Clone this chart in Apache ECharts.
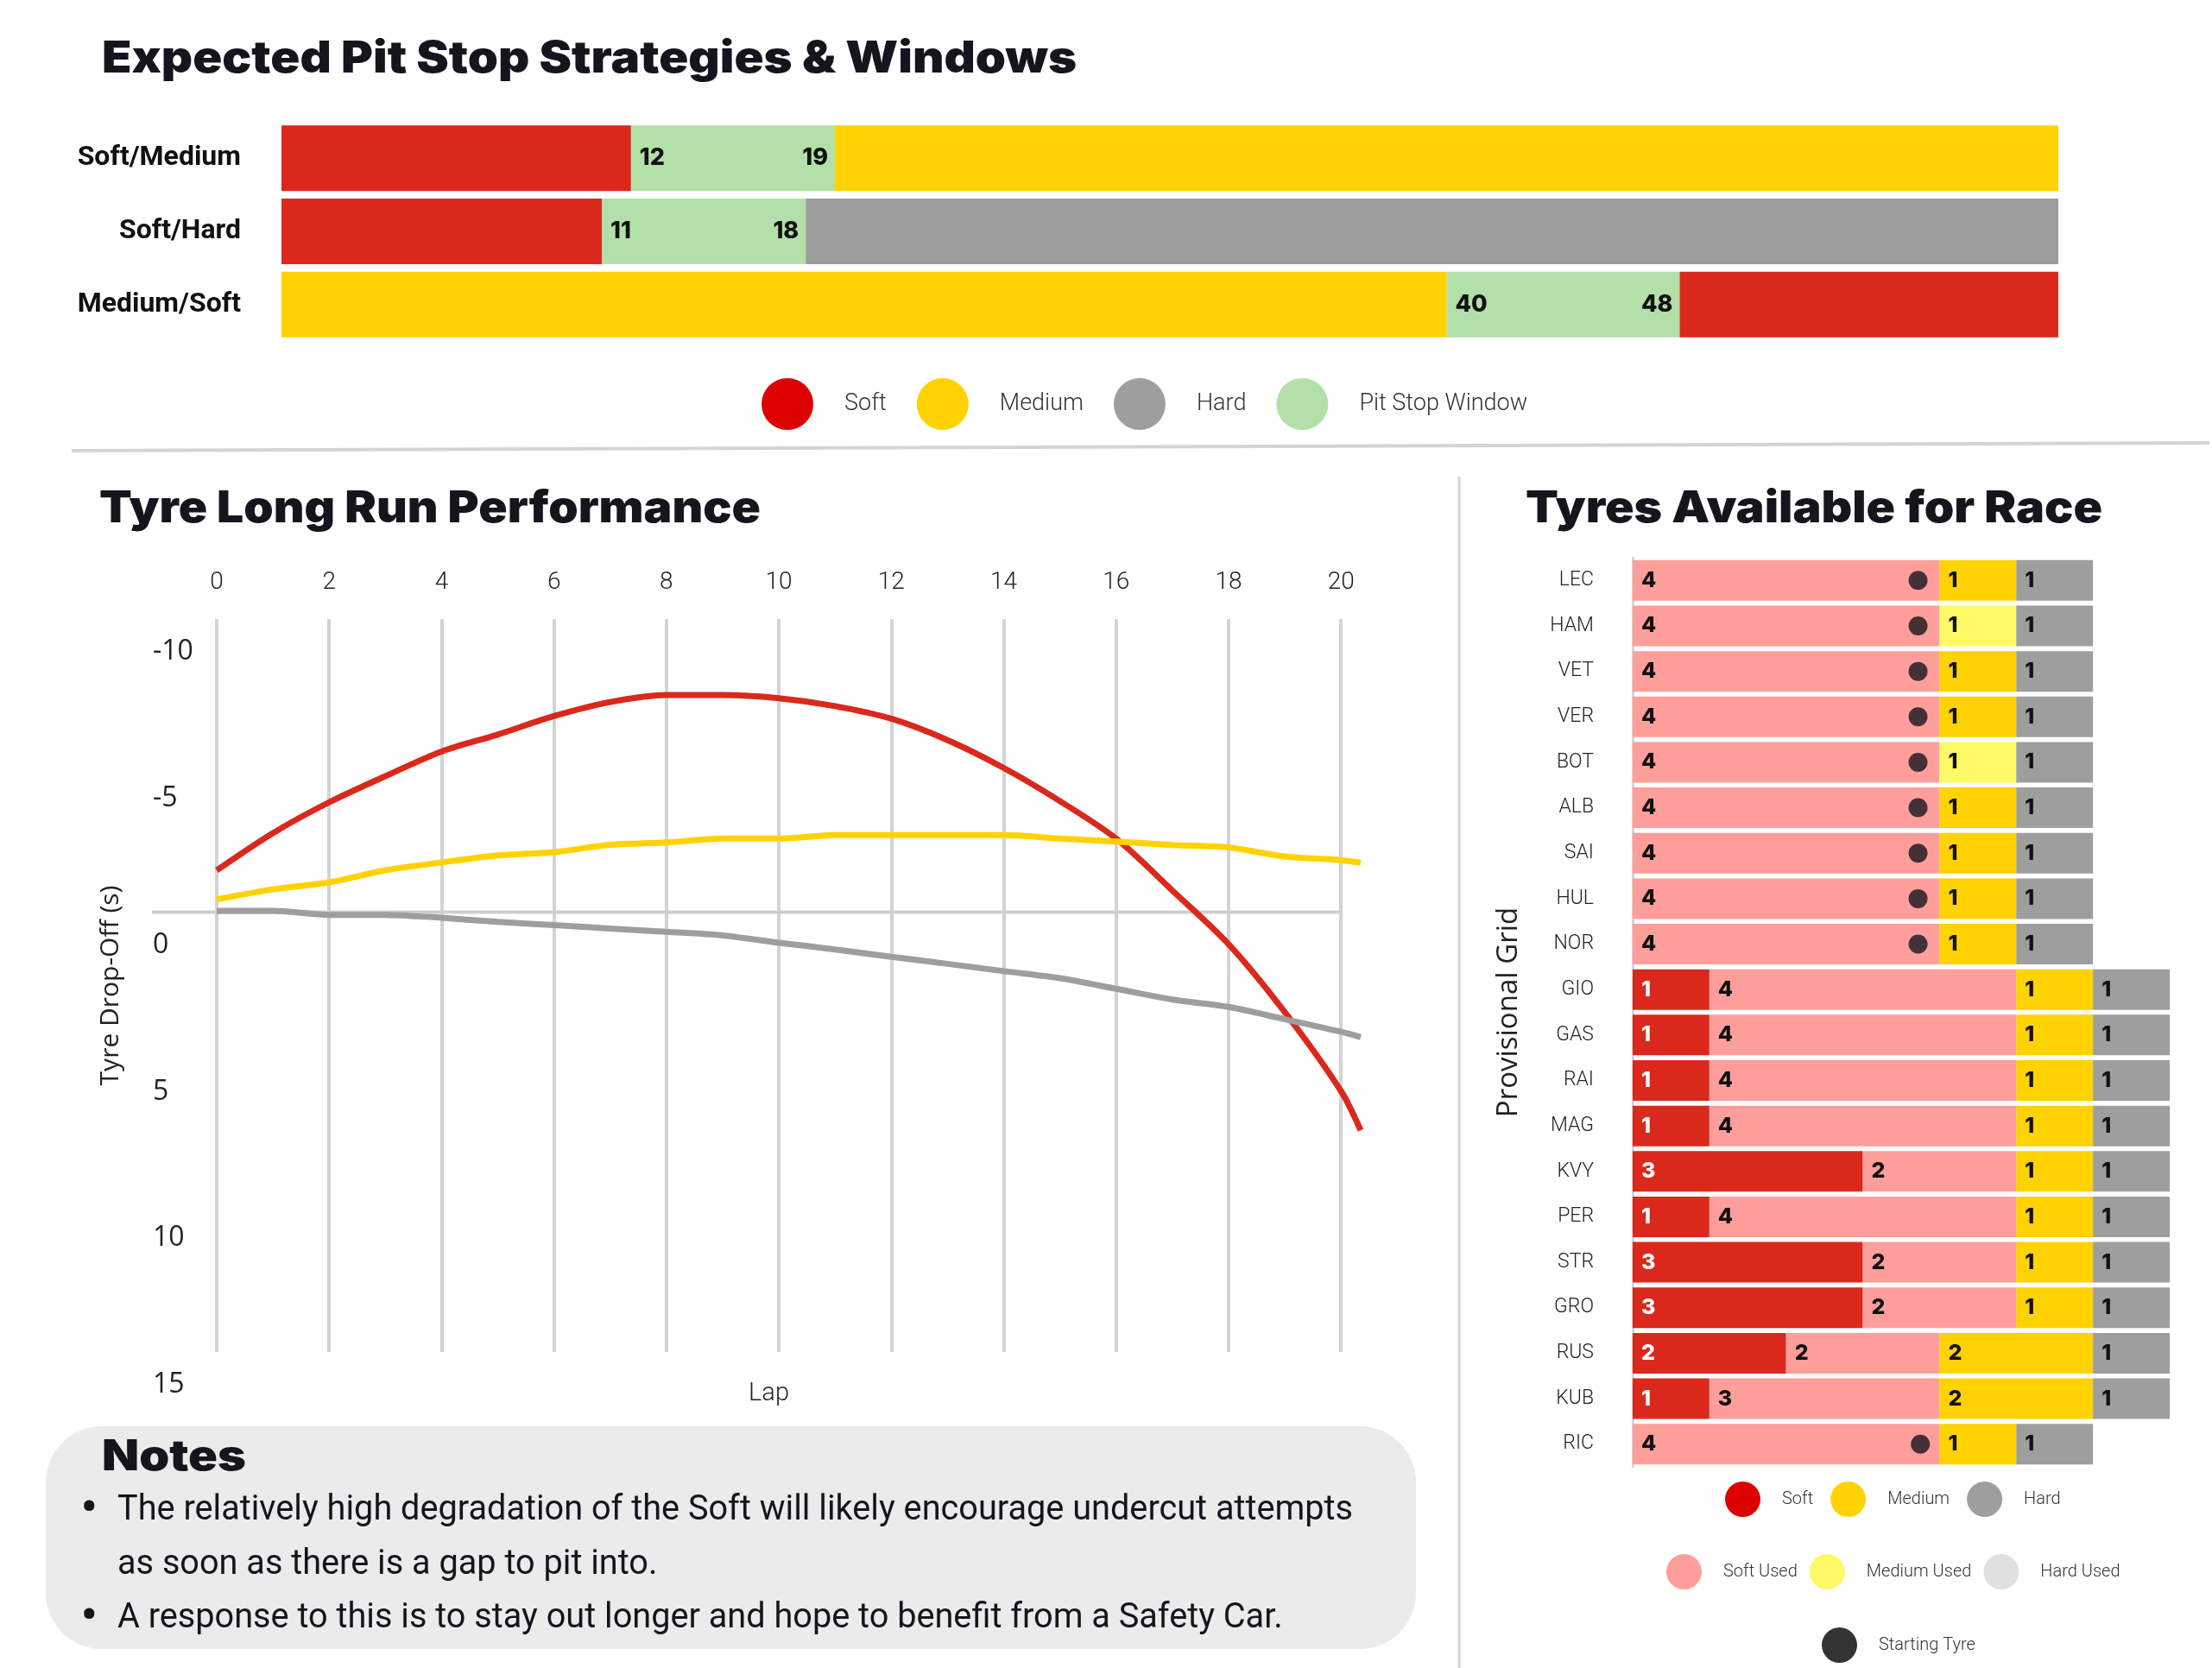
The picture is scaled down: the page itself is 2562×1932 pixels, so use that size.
<!DOCTYPE html>
<html>
<head>
<meta charset="utf-8">
<title>Pit Stop Strategies &amp; Tyres</title>
<script src="https://cdn.jsdelivr.net/npm/echarts@6/dist/echarts.min.js"></script>
<style>
  html, body { margin: 0; padding: 0; background: #fff; }
  #chart { width: 2562px; height: 1932px; }
</style>
</head>
<body>
<div id="chart"></div>
<script>
// strategies, 61 lap race
const raceLaps = 61;
const strategyNames = ['Soft/Medium', 'Soft/Hard', 'Medium/Soft'];
const firstStint = ['Soft', 'Soft', 'Medium'];
const secondStint = ['Medium', 'Hard', 'Soft'];
const windowOpen = [12, 11, 40];
const windowClose = [19, 18, 48];

// long run drop-off (s), negative = faster
const laps = [0, 1, 2, 3, 4, 5, 6, 7, 8, 9, 10, 11, 12, 13, 14, 15, 16, 17, 18, 19, 20, 20.35];
const softDrop = [-1.43, -2.70, -3.75, -4.64, -5.48, -6.06, -6.69, -7.17, -7.41, -7.41, -7.30, -7.03,
  -6.60, -5.87, -4.92, -3.79, -2.51, -0.74, 1.09, 3.41, 6.10, 7.44];
const mediumDrop = [-0.44, -0.78, -1.02, -1.43, -1.70, -1.94, -2.05, -2.30, -2.38, -2.51, -2.51, -2.63,
  -2.63, -2.63, -2.63, -2.51, -2.41, -2.29, -2.21, -1.90, -1.78, -1.69];
const hardDrop = [-0.05, -0.05, 0.09, 0.09, 0.19, 0.33, 0.44, 0.56, 0.67, 0.79, 1.04, 1.27,
  1.52, 1.76, 2.01, 2.25, 2.61, 2.98, 3.23, 3.65, 4.08, 4.26];

// tyre sets available for the race
const drivers = ['LEC', 'HAM', 'VET', 'VER', 'BOT', 'ALB', 'SAI', 'HUL', 'NOR', 'GIO',
  'GAS', 'RAI', 'MAG', 'KVY', 'PER', 'STR', 'GRO', 'RUS', 'KUB', 'RIC'];
const softNew    = [0, 0, 0, 0, 0, 0, 0, 0, 0, 1, 1, 1, 1, 3, 1, 3, 3, 2, 1, 0];
const softUsed   = [4, 4, 4, 4, 4, 4, 4, 4, 4, 4, 4, 4, 4, 2, 4, 2, 2, 2, 3, 4];
const mediumNew  = [1, 0, 1, 1, 0, 1, 1, 1, 1, 1, 1, 1, 1, 1, 1, 1, 1, 2, 2, 1];
const mediumUsed = [0, 1, 0, 0, 1, 0, 0, 0, 0, 0, 0, 0, 0, 0, 0, 0, 0, 0, 0, 0];
const hardNew    = [1, 1, 1, 1, 1, 1, 1, 1, 1, 1, 1, 1, 1, 1, 1, 1, 1, 1, 1, 1];
const hardUsed   = [0, 0, 0, 0, 0, 0, 0, 0, 0, 0, 0, 0, 0, 0, 0, 0, 0, 0, 0, 0];
const startingTyre = [3.72, 3.72, 3.72, 3.72, 3.72, 3.72, 3.72, 3.72, 3.72, null,
  null, null, null, null, null, null, null, null, null, 3.75];

const notes = [
  ['The relatively high degradation of the Soft will likely encourage undercut attempts',
   'as soon as there is a gap to pit into.'],
  ['A response to this is to stay out longer and hope to benefit from a Safety Car.'],
];

const F1 = "Inter, 'Noto Sans', sans-serif";
const LIGHT = "Roboto, 'Noto Sans', sans-serif";
const SANS = "'Open Sans', 'Noto Sans', sans-serif";
const INK = '#15151e';

const compoundColor = { Soft: '#da291c', Medium: '#ffd200', Hard: '#9c9c9c' };
const legendColor = { Soft: '#dd0000', Medium: '#ffd200', Hard: '#9e9e9e' };

// text squeezed/stretched to the width it has in the layout
const measure = document.createElement('canvas').getContext('2d');
function fitScale(text, font, width) {
  measure.font = font;
  return width / measure.measureText(text).width;
}
function headline(text, x, y, width, size) {
  const font = `900 ${size}px Inter`;
  return {
    type: 'text', x, y, scaleX: fitScale(text, font, width),
    style: { text, font, fill: INK, verticalAlign: 'middle' },
  };
}

// --- strategy bars ---
const stratLabel = { color: '#111', fontFamily: F1, fontWeight: 800, fontSize: 27 };
const strategySeries = [];
['Soft', 'Medium'].forEach((c) => {
  strategySeries.push({
    name: c, type: 'bar', stack: 'strategy', xAxisIndex: 0, yAxisIndex: 0,
    barWidth: 76, itemStyle: { color: compoundColor[c] },
    data: firstStint.map((f, i) => (f === c ? windowOpen[i] : '-')),
  });
});
strategySeries.push({
  name: 'Pit Stop Window', type: 'bar', stack: 'strategy', xAxisIndex: 0, yAxisIndex: 0,
  barWidth: 76, itemStyle: { color: '#b3dfa8' },
  data: windowClose.map((v, i) => v - windowOpen[i]),
  label: { show: true, position: 'insideLeft', distance: 10, formatter: (p) => windowOpen[p.dataIndex], ...stratLabel },
});
['Medium', 'Hard', 'Soft'].forEach((c) => {
  strategySeries.push({
    name: c, type: 'bar', stack: 'strategy', xAxisIndex: 0, yAxisIndex: 0,
    barWidth: 76, itemStyle: { color: compoundColor[c] },
    data: secondStint.map((s, i) => (s === c ? raceLaps - windowClose[i] : '-')),
    label: { show: true, position: 'left', distance: 8, formatter: (p) => windowClose[p.dataIndex], ...stratLabel },
  });
});

// --- long run lines ---
function dropLine(name, values, color) {
  return {
    name, type: 'line', xAxisIndex: 1, yAxisIndex: 1, smooth: 0.3, symbol: 'none',
    lineStyle: { color, width: 7 }, z: 4,
    data: laps.map((l, i) => [l, values[i]]),
  };
}
const lineSeries = [
  dropLine('Soft long run', softDrop, '#da291c'),
  dropLine('Medium long run', mediumDrop, '#ffd200'),
  dropLine('Hard long run', hardDrop, '#9e9e9e'),
  {
    name: 'zero', type: 'line', xAxisIndex: 4, yAxisIndex: 3, symbol: 'none', silent: true, z: 2,
    lineStyle: { color: '#cfcfcf', width: 4 }, data: [[0, 0], [1, 0]],
  },
];

// --- tyres available ---
const tyreTypes = [
  ['Soft', softNew, '#da291c', '#fff'],
  ['Soft Used', softUsed, '#ff9e9a', '#111'],
  ['Medium', mediumNew, '#ffd200', '#111'],
  ['Medium Used', mediumUsed, '#fff966', '#111'],
  ['Hard', hardNew, '#9e9e9e', '#111'],
  ['Hard Used', hardUsed, '#e0e0e0', '#111'],
];
const tyreSeries = tyreTypes.map(([name, values, color, labelColor]) => ({
  name, type: 'bar', stack: 'tyres', xAxisIndex: 3, yAxisIndex: 2, barWidth: 47,
  itemStyle: { color },
  label: {
    show: true, position: 'insideLeft', distance: 10, color: labelColor,
    fontFamily: F1, fontWeight: 800, fontSize: 25,
  },
  data: values.map((v) => (v > 0 ? v : '-')),
}));
tyreSeries.push({
  name: 'Starting Tyre', type: 'scatter', xAxisIndex: 3, yAxisIndex: 2, symbol: 'circle',
  symbolSize: 22, itemStyle: { color: '#15151e' }, z: 5,
  data: drivers.map((d, i) => (startingTyre[i] == null ? null : [startingTyre[i], d])).filter(Boolean),
});

// --- notes ---
const noteFont = '400 40px Roboto';
const noteScale = fitScale(notes[0][0], noteFont, 1431);
const noteGraphics = [];
let lineY = 1750;
notes.forEach((para) => {
  noteGraphics.push({
    type: 'text', x: 103, y: lineY,
    style: { text: '•', font: '700 52px Roboto', fill: INK, align: 'center', verticalAlign: 'middle' },
  });
  para.forEach((t) => {
    noteGraphics.push({
      type: 'text', x: 136, y: lineY, scaleX: noteScale,
      style: { text: t, font: noteFont, fill: INK, verticalAlign: 'middle' },
    });
    lineY += 62.5;
  });
});

const legendText = (size) => ({ color: '#333', fontFamily: LIGHT, fontWeight: 300, fontSize: size });

const chart = echarts.init(document.getElementById('chart'));
chart.setOption({
  backgroundColor: '#fff',
  animation: false,
  legend: [
    {
      left: 877, top: 433, itemWidth: 122, itemHeight: 60, itemGap: 35, icon: 'circle',
      textStyle: legendText(27),
      data: ['Soft', 'Medium', 'Hard'].map((n) => ({ name: n, itemStyle: { color: legendColor[n] } }))
        .concat([{ name: 'Pit Stop Window', itemStyle: { color: '#b3dfa8' } }]),
    },
    {
      left: 1993, top: 1711, itemWidth: 81, itemHeight: 41, itemGap: 20, icon: 'circle',
      textStyle: legendText(20),
      data: ['Soft', 'Medium', 'Hard'].map((n) => ({ name: n, itemStyle: { color: legendColor[n] } })),
    },
    {
      left: 1925, top: 1795, itemWidth: 81, itemHeight: 41, itemGap: 14, icon: 'circle',
      textStyle: legendText(20),
      data: [
        { name: 'Soft Used', itemStyle: { color: '#ff9e9a' } },
        { name: 'Medium Used', itemStyle: { color: '#fff966' } },
        { name: 'Hard Used', itemStyle: { color: '#e0e0e0' } },
      ],
    },
    {
      left: 2105, top: 1880, itemWidth: 81, itemHeight: 41, icon: 'circle',
      textStyle: legendText(20),
      data: [{ name: 'Starting Tyre', itemStyle: { color: '#000' } }],
    },
  ],
  grid: [
    { left: 326, right: 178, top: 141, height: 254 },
    { left: 251, right: 986, top: 717, bottom: 366 },
    { left: 1891, right: 49, top: 646, bottom: 233 },
    { left: 176, right: 1009, top: 717, bottom: 366 },
  ],
  xAxis: [
    { gridIndex: 0, type: 'value', min: 0, max: raceLaps, show: false },
    {
      gridIndex: 1, type: 'value', position: 'top', min: 0, max: 20.35, interval: 2,
      axisLine: { show: false }, axisTick: { show: false },
      axisLabel: { margin: 28, showMaxLabel: false, color: '#222', fontFamily: LIGHT, fontWeight: 300, fontSize: 28 },
      splitLine: { show: true, showMaxLine: false, lineStyle: { color: '#d3d3d3', width: 4 } },
    },
    {
      gridIndex: 1, type: 'value', position: 'bottom', min: 0, max: 20.35,
      axisLine: { show: false }, axisTick: { show: false }, axisLabel: { show: false },
      splitLine: { show: false },
      name: 'Lap', nameLocation: 'middle', nameGap: 34,
      nameTextStyle: { color: '#222', fontFamily: LIGHT, fontWeight: 300, fontSize: 29, padding: [0, 46, 0, 0] },
    },
    { gridIndex: 2, type: 'value', min: 0, max: 7, show: false },
    { gridIndex: 3, type: 'value', min: 0, max: 1, show: false },
  ],
  yAxis: [
    {
      gridIndex: 0, type: 'category', inverse: true, data: strategyNames,
      axisLine: { show: false }, axisTick: { show: false },
      axisLabel: { margin: 47, color: '#111', fontFamily: LIGHT, fontWeight: 700, fontSize: 32, padding: [6, 0, 0, 0] },
    },
    {
      gridIndex: 1, type: 'value', inverse: true, min: -10, max: 15, interval: 5,
      axisLine: { show: false }, axisTick: { show: false }, splitLine: { show: false },
      axisLabel: {
        align: 'left', margin: 74, verticalAlign: 'top', lineHeight: 32, padding: [22, 0, 0, 0],
        color: '#222', fontFamily: SANS, fontSize: 32,
      },
      name: 'Tyre Drop-Off (s)', nameLocation: 'middle', nameRotate: 90, nameGap: 108,
      nameTextStyle: { color: '#222', fontFamily: SANS, fontSize: 30 },
    },
    {
      gridIndex: 2, type: 'category', inverse: true, data: drivers,
      axisLine: { show: true, lineStyle: { color: '#d6d6d6', width: 3 } }, axisTick: { show: false },
      axisLabel: { margin: 45, color: '#222', fontFamily: LIGHT, fontWeight: 300, fontSize: 23, padding: [12, 0, 0, 0] },
      name: 'Provisional Grid', nameLocation: 'middle', nameRotate: 90, nameGap: 127,
      nameTextStyle: { color: '#222', fontFamily: SANS, fontSize: 33 },
    },
    { gridIndex: 3, type: 'value', inverse: true, min: -10, max: 15, show: false },
  ],
  graphic: [
    { type: 'line', silent: true, shape: { x1: 83, y1: 522, x2: 2559, y2: 513 }, style: { stroke: '#d4d4d4', lineWidth: 4 } },
    { type: 'line', silent: true, shape: { x1: 1690, y1: 552, x2: 1690, y2: 1932 }, style: { stroke: '#d4d4d4', lineWidth: 3 } },
    { type: 'rect', silent: true, shape: { x: 53, y: 1652, width: 1587, height: 258, r: 65 }, style: { fill: '#ebebeb' } },
    headline('Expected Pit Stop Strategies & Windows', 118, 69, 1129, 51),
    headline('Tyre Long Run Performance', 115, 590, 766, 51),
    headline('Tyres Available for Race', 1767, 590, 668, 51),
    headline('Notes', 118, 1688, 167, 49),
    ...noteGraphics,
  ],
  series: [...strategySeries, ...lineSeries, ...tyreSeries],
});

window.addEventListener('resize', () => chart.resize());
</script>
</body>
</html>
